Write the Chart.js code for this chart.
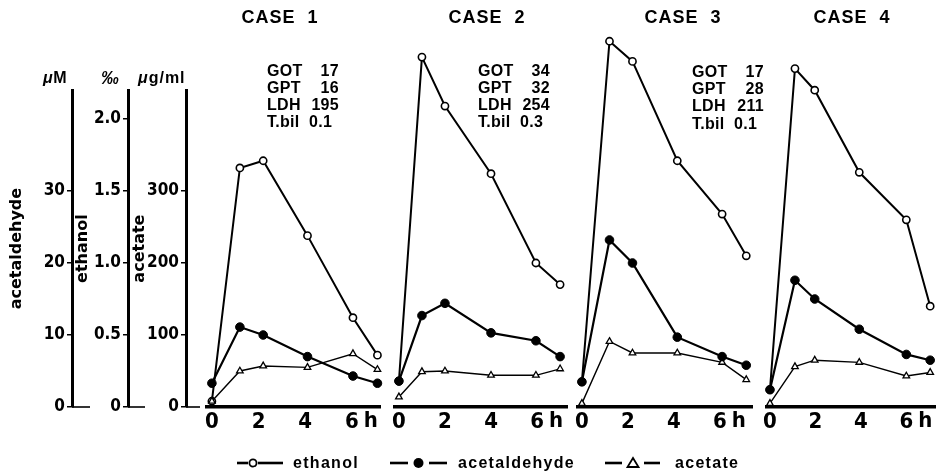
<!DOCTYPE html>
<html>
<head>
<meta charset="utf-8">
<script src="https://cdn.jsdelivr.net/npm/chart.js@4.4.1/dist/chart.umd.min.js"></script>
<style>
  html, body { margin: 0; padding: 0; background: #fff; }
  body { width: 936px; height: 473px; position: relative; overflow: hidden;
         font-family: 'Liberation Sans', Arial, sans-serif; font-weight: bold; color: #000; }
  canvas { position: absolute; top: 0; }
  .txt { position: absolute; white-space: nowrap; }
  .title { font-size: 18px; letter-spacing: 1px; width: 120px; text-align: center; line-height: 20px; top: 7px; }
  .lab { font-size: 16px; letter-spacing: 0.3px; line-height: 17.2px; }
  .unit { font-size: 16px; line-height: 18px; top: 69px; letter-spacing: 0.5px; }
  .leg { font-size: 16px; letter-spacing: 1.3px; line-height: 20px; top: 453px; }
</style>
</head>
<body>
<canvas id="axes" width="200" height="473" style="left:0"></canvas>
<canvas id="case1"></canvas>
<canvas id="case2"></canvas>
<canvas id="case3"></canvas>
<canvas id="case4"></canvas>
<div id="texts"></div>
<svg id="legendMarks" width="936" height="473" style="position:absolute;left:0;top:0;pointer-events:none"></svg>
<script>
// values
const caseNames = ['CASE  1', 'CASE  2', 'CASE  3', 'CASE  4'];

const case1Times = [0, 1.2, 2.2, 4.1, 6.05, 7.1];
const case1Ethanol = [0.04, 1.66, 1.71, 1.19, 0.62, 0.36];      // ‰
const case1Acetaldehyde = [3.3, 11.1, 10.0, 7.0, 4.3, 3.3];    // µM
const case1Acetate = [8, 50, 57, 55, 74, 52];                  // µg/ml

const case2Times = [0, 1.0, 2.0, 4.0, 5.95, 7.0];
const case2Ethanol = [0.18, 2.43, 2.09, 1.62, 1.0, 0.85];
const case2Acetaldehyde = [3.6, 12.7, 14.4, 10.3, 9.2, 7.0];
const case2Acetate = [14, 49, 50, 44, 44, 53];

const case3Times = [0, 1.2, 2.2, 4.15, 6.1, 7.15];
const case3Ethanol = [0.175, 2.54, 2.40, 1.71, 1.34, 1.05];
const case3Acetaldehyde = [3.5, 23.2, 20.0, 9.7, 7.0, 5.8];
const case3Acetate = [5, 91, 75, 75, 62, 38];

const case4Times = [0, 1.1, 1.97, 3.93, 6.0, 7.05];
const case4Ethanol = [0.12, 2.35, 2.2, 1.63, 1.30, 0.70];
const case4Acetaldehyde = [2.4, 17.6, 15.0, 10.8, 7.3, 6.5];
const case4Acetate = [5, 56, 65, 62, 43, 48];

const labTests = ['GOT', 'GPT', 'LDH', 'T.bil'];
const case1Lab = ['17', '16', '195', '0.1'];
const case2Lab = ['34', '32', '254', '0.3'];
const case3Lab = ['17', '28', '211', '0.1'];

const xTicks = [0, 2, 4, 6];
const acetaldehydeTicks = [0, 10, 20, 30];
const ethanolTicks = [0, 0.5, 1.0, 1.5, 2.0];
const acetateTicks = [0, 100, 200, 300];

// layout of the figure
const BASE = 407;          // pixel row of the zero line
const PX = 0.72;           // pixels per µg/ml (1 ‰ = 200, 1 µM = 10 on the drawing)
const panelZero = [212, 399, 582, 770];
const panelHour = [23.3, 23.0, 23.0, 22.7];
const panelMin = [-0.21, -0.17, -0.17, -0.13];
const panelMax = [7.21, 7.3, 7.4, 7.35];
const titleCenter = [280, 487, 683, 852];
const labLeft = [267, 478, 692];
const labTop = [61.5, 61.5, 63];

const cases = [
  { times: case1Times, eth: case1Ethanol, ald: case1Acetaldehyde, ac: case1Acetate },
  { times: case2Times, eth: case2Ethanol, ald: case2Acetaldehyde, ac: case2Acetate },
  { times: case3Times, eth: case3Ethanol, ald: case3Acetaldehyde, ac: case3Acetate },
  { times: case4Times, eth: case4Ethanol, ald: case4Acetaldehyde, ac: case4Acetate }
];
const labs = [case1Lab, case2Lab, case3Lab];

const narrow = "'Liberation Sans Narrow', 'DejaVu Sans Condensed', 'Liberation Sans', sans-serif";
Chart.defaults.color = '#000';
Chart.defaults.font.family = "'Liberation Sans', Arial, sans-serif";

// ---- left axes (no data, just the three unit scales) ----
const leftTop = 90.2;
const acMaxLeft = (BASE - leftTop) / PX;

function unitAxis(ticks, max, title, weight, width, titlePad, fmt) {
  return {
    type: 'linear', position: 'left', min: 0, max: max, weight: weight,
    afterBuildTicks: s => { s.ticks = ticks.map(v => ({ value: v })); },
    afterFit: s => { s.width = width; },
    grid: { drawOnChartArea: false, drawTicks: true, tickLength: 5, color: '#000', lineWidth: 1.5 },
    border: { display: true, width: 3, color: '#000' },
    ticks: { font: { family: narrow, size: 17, weight: 'bold' }, padding: 2, color: '#000',
             callback: fmt },
    title: { display: true, text: title, padding: { top: titlePad, bottom: titlePad },
             font: { family: "'DejaVu Sans', sans-serif", size: 16, weight: 'bold' }, color: '#000' }
  };
}

const stubPlugin = {
  id: 'zeroStubs',
  afterDraw(chart) {
    const ctx = chart.ctx;
    ctx.save();
    ctx.strokeStyle = '#000';
    ctx.lineWidth = 1.6;
    [['yAld', 18], ['yEth', 17], ['yAc', 14]].forEach(([id, len]) => {
      const s = chart.scales[id];
      const y = s.getPixelForValue(0);
      ctx.beginPath();
      ctx.moveTo(s.right, y);
      ctx.lineTo(s.right + len, y);
      ctx.stroke();
    });
    ctx.restore();
  }
};

new Chart(document.getElementById('axes'), {
  type: 'line',
  data: { datasets: [] },
  options: {
    responsive: false, animation: false,
    layout: { padding: { top: leftTop, bottom: 473 - BASE, left: 0, right: 0 } },
    plugins: { legend: { display: false }, tooltip: { enabled: false } },
    scales: {
      x: { display: false },
      yAld: unitAxis(acetaldehydeTicks, acMaxLeft / 10, 'acetaldehyde', 3, 72, 7, v => String(v)),
      yEth: unitAxis(ethanolTicks, acMaxLeft / 200, 'ethanol', 2, 56, 1.5, v => v === 0 ? '0' : v.toFixed(1)),
      yAc: unitAxis(acetateTicks, acMaxLeft, 'acetate', 1, 58, 2.5, v => String(v))
    }
  },
  plugins: [stubPlugin]
});

// ---- the four case panels ----
const panelTop = 30;
const acMaxPanel = (BASE - panelTop) / PX;

const hourPlugin = {
  id: 'hourLabel',
  afterDraw(chart) {
    const s = chart.scales.x;
    const ctx = chart.ctx;
    ctx.save();
    ctx.font = 'bold 22px ' + narrow;
    ctx.fillStyle = '#000';
    ctx.textAlign = 'center';
    ctx.textBaseline = 'middle';
    ctx.fillText('h', s.getPixelForValue(6) + 19, s.top + 14);
    ctx.restore();
  }
};

function pts(times, vals) {
  return times.map((t, i) => ({ x: t, y: vals[i] }));
}

cases.forEach((c, k) => {
  const cv = document.getElementById('case' + (k + 1));
  const w = panelHour[k] * (panelMax[k] - panelMin[k]);
  cv.width = Math.round(w + 30);
  cv.height = 473;
  cv.style.left = (panelZero[k] + panelHour[k] * panelMin[k] - 15) + 'px';

  new Chart(cv, {
    type: 'line',
    data: {
      datasets: [
        { label: 'ethanol', data: pts(c.times, c.eth), yAxisID: 'yEth', order: 3,
          borderColor: '#000', borderWidth: 2, tension: 0, clip: false,
          pointStyle: 'circle', pointRadius: 3.6, pointBorderWidth: 1.6,
          pointBackgroundColor: '#fff', pointBorderColor: '#000' },
        { label: 'acetaldehyde', data: pts(c.times, c.ald), yAxisID: 'yAld', order: 1,
          borderColor: '#000', borderWidth: 2.2, tension: 0, clip: false,
          pointStyle: 'circle', pointRadius: 4.3, pointBorderWidth: 1,
          pointBackgroundColor: '#000', pointBorderColor: '#000' },
        { label: 'acetate', data: pts(c.times, c.ac), yAxisID: 'yAc', order: 2,
          borderColor: '#000', borderWidth: 1.4, tension: 0, clip: false,
          pointStyle: 'triangle', pointRadius: 3.8, pointBorderWidth: 1.3,
          pointBackgroundColor: '#fff', pointBorderColor: '#000' }
      ]
    },
    options: {
      responsive: false, animation: false,
      layout: { padding: { top: panelTop, bottom: 0, left: 15, right: 15 } },
      plugins: { legend: { display: false }, tooltip: { enabled: false } },
      scales: {
        x: {
          type: 'linear', min: panelMin[k], max: panelMax[k],
          afterBuildTicks: s => { s.ticks = xTicks.map(v => ({ value: v })); },
          afterFit: s => { s.height = 473 - BASE; },
          grid: { display: false },
          border: { display: true, width: 3.5, color: '#000' },
          ticks: { font: { family: narrow, size: 22, weight: 'bold' }, padding: -6,
                   maxRotation: 0, autoSkip: false, color: '#000' }
        },
        yAc: { display: false, min: 0, max: acMaxPanel },
        yEth: { display: false, min: 0, max: acMaxPanel / 200 },
        yAld: { display: false, min: 0, max: acMaxPanel / 10 }
      }
    },
    plugins: [hourPlugin]
  });
});

// ---- texts: titles, lab values, units, legend ----
const texts = document.getElementById('texts');
function addText(cls, html, style) {
  const d = document.createElement('div');
  d.className = 'txt ' + cls;
  d.innerHTML = html;
  Object.assign(d.style, style);
  texts.appendChild(d);
  return d;
}

caseNames.forEach((n, k) => {
  addText('title', n.replace(/ /g, '&nbsp;'), { left: (titleCenter[k] - 60) + 'px' });
});

labs.forEach((vals, k) => {
  labTests.forEach((t, i) => {
    const top = labTop[k] + i * 17.2;
    addText('lab', t, { left: labLeft[k] + 'px', top: top + 'px' });
    if (t === 'T.bil') {
      addText('lab', vals[i], { left: (labLeft[k] + 42) + 'px', top: top + 'px' });
    } else {
      addText('lab', vals[i], { left: (labLeft[k] + 22) + 'px', top: top + 'px', width: '50px', textAlign: 'right' });
    }
  });
});

addText('unit', '<i>μ</i>M', { left: '43px' });
addText('unit', '<i>‰</i>', { left: '101px', fontSize: '18px' });
addText('unit', '<i>μ</i>g/ml', { left: '138px', letterSpacing: '1px' });

addText('leg', 'ethanol', { left: '293px' });
addText('leg', 'acetaldehyde', { left: '458px' });
addText('leg', 'acetate', { left: '675px' });

// legend marks
const svg = document.getElementById('legendMarks');
const ly = 463;
svg.innerHTML =
  `<g stroke="#000" stroke-width="2.6" fill="none">
     <line x1="237" y1="${ly}" x2="248" y2="${ly}"/>
     <line x1="258" y1="${ly}" x2="283" y2="${ly}"/>
     <line x1="390" y1="${ly}" x2="408" y2="${ly}"/>
     <line x1="429" y1="${ly}" x2="447" y2="${ly}"/>
     <line x1="605" y1="${ly}" x2="622" y2="${ly}"/>
     <line x1="644" y1="${ly}" x2="660" y2="${ly}"/>
   </g>
   <circle cx="253" cy="${ly}" r="3.6" fill="#fff" stroke="#000" stroke-width="1.8"/>
   <circle cx="418.5" cy="${ly}" r="5" fill="#000"/>
   <polygon points="633,${ly - 5} 638.5,${ly + 4} 627.5,${ly + 4}" fill="#fff" stroke="#000" stroke-width="1.8"/>`;
</script>
</body>
</html>
